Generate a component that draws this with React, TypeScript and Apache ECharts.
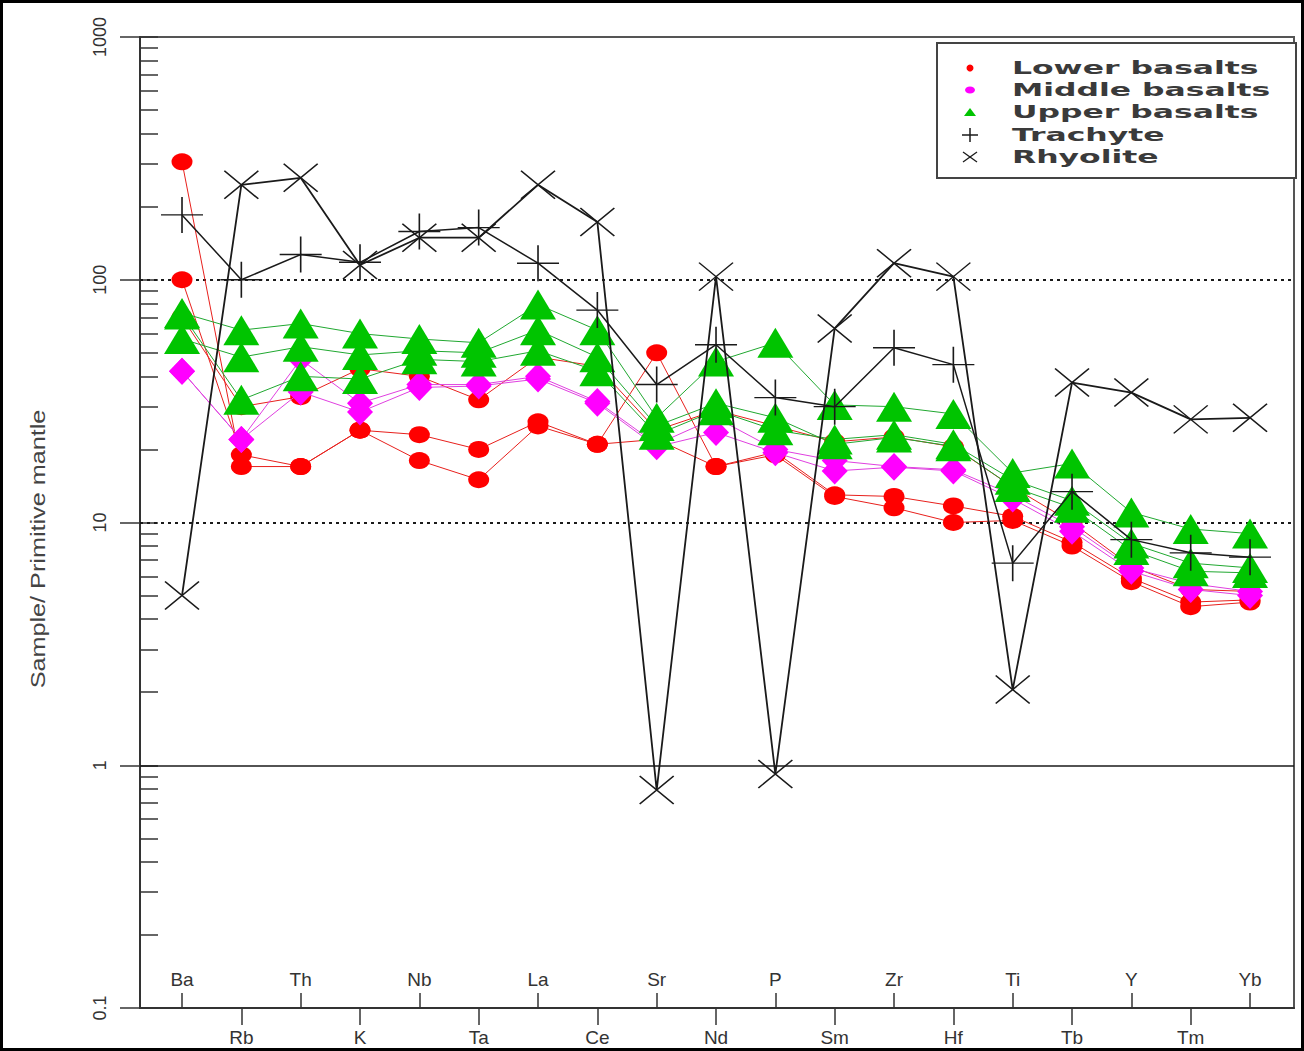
import React, { useEffect, useRef } from "react";
import * as echarts from "echarts";

// Spider diagram: trace elements normalised to primitive mantle
const elements = ["Ba", "Rb", "Th", "K", "Nb", "Ta", "La", "Ce", "Sr", "Nd", "P", "Sm", "Zr", "Hf", "Ti", "Tb", "Y", "Tm", "Yb"];

const lowerBasalt1 = [306, 17, 17, 24, 18, 15, 25, 21, 50, 17, 19.5, 13, 12.8, 11.7, 10.6, 8.3, 5.9, 4.7, 4.8];
const lowerBasalt2 = [100, 19, 17, 24, 23, 20, 26, 21, 22, 17, 19, 12.8, 11.5, 10, 10.2, 8.0, 5.7, 4.5, 4.7];
const lowerBasalt3 = [70, 30, 33, 43, 40, 32, 48, 44, 24, 29, 25, 21.5, 22.5, 20.5, 14, 10, 6.6, 5.3, 5.2];

const middleBasalt1 = [42, 22, 47, 31, 37, 37, 40, 31.5, 21, 27, 20, 18, 17, 16.5, 13, 9.6, 6.5, 5.6, 5.2];
const middleBasalt2 = [42, 22, 34.5, 28.5, 36, 36.5, 39, 31, 20.5, 23.5, 19.4, 16.3, 16.9, 16.3, 12.5, 9.2, 6.3, 5.3, 5.0];

const upperBasalt1 = [73, 62, 66, 60, 57, 55, 79, 62, 27, 46, 55, 30.5, 30, 28, 16, 17.5, 11, 9.4, 9.0];
const upperBasalt2 = [57, 48, 53, 49, 51, 50, 62, 48, 25, 31, 27, 21, 22.4, 20.6, 14, 11.5, 7.7, 6.3, 6.2];
const upperBasalt3 = [72, 32, 40, 39, 47, 46, 51, 42, 23, 29, 24, 22, 23, 21, 15, 12.3, 8.2, 6.8, 6.5];

const trachyte = [185, 100, 127, 118, 158, 164, 117, 75, 37, 54, 32.7, 30, 52.5, 44.7, 6.8, 13.4, 8.5, 7.5, 7.2];
const rhyolite = [5, 246, 263, 115, 149, 149, 246, 173, 0.79, 103, 0.92, 63, 117, 103, 2.05, 37.7, 34.3, 26.6, 27];

const majorTicks = [0.1, 1, 10, 100, 1000];
const dottedLevels = [10, 100];
const solidLevels = [1];

const legendNames = ["Lower basalts", "Middle basalts", "Upper basalts", "Trachyte", "Rhyolite"];

const RED = "#ff0000";
const MAGENTA = "#ff00ff";
const GREEN = "#00c400";
const INK = "#1a1a1a";
const LABEL_FONT = '"Liberation Sans", Arial, sans-serif';

const PLUS = "path://M0,50L100,50M50,0L50,100";
const CROSS = "path://M0,0L100,100M100,0L0,100";

const toPoints = (vals: number[]) => vals.map((v, i) => [i, v]);

const evenIdx = elements.map((_, i) => i).filter((i) => i % 2 === 0);
const oddIdx = elements.map((_, i) => i).filter((i) => i % 2 === 1);

const minorTickValues: number[] = [];
[0.1, 1, 10, 100].forEach((d) => {
  for (let k = 1; k <= 9; k++) minorTickValues.push(+(d * k).toPrecision(3));
});
minorTickValues.push(1000);

function filledSeries(name: string, vals: number[], symbol: string, size: number[], fill: string, line: string, z: number) {
  return {
    name,
    type: "line",
    data: toPoints(vals),
    symbol,
    symbolSize: size,
    showSymbol: true,
    z,
    lineStyle: { color: line, width: 1 },
    itemStyle: { color: fill, borderWidth: 0 },
    emphasis: { disabled: true },
    silent: true,
  };
}

function strokedSeries(name: string, vals: number[], symbol: string, size: number[], width: number, z: number) {
  return {
    name,
    type: "line",
    data: toPoints(vals),
    symbol,
    symbolSize: size,
    showSymbol: true,
    z,
    lineStyle: { color: INK, width },
    itemStyle: { color: "rgba(0,0,0,0)", borderColor: INK, borderWidth: 1.5 },
    emphasis: { disabled: true },
    silent: true,
  };
}

function legendGraphic() {
  const x0 = 937;
  const y0 = 43;
  const rows = [68, 90, 112, 135, 157];
  const sx = 970;
  const children: any[] = [
    { type: "rect", shape: { x: x0, y: y0, width: 359, height: 135 }, style: { fill: "#ffffff", stroke: "#444", lineWidth: 2 } },
    { type: "circle", shape: { cx: sx, cy: rows[0], r: 3.5 }, style: { fill: RED } },
    { type: "ellipse", shape: { cx: sx, cy: rows[1], rx: 5, ry: 3.5 }, style: { fill: MAGENTA } },
    { type: "polygon", shape: { points: [[sx - 6, rows[2] + 4], [sx + 6, rows[2] + 4], [sx, rows[2] - 4]] }, style: { fill: GREEN } },
    { type: "line", shape: { x1: sx - 8, y1: rows[3], x2: sx + 8, y2: rows[3] }, style: { stroke: INK, lineWidth: 1.5 } },
    { type: "line", shape: { x1: sx, y1: rows[3] - 7, x2: sx, y2: rows[3] + 7 }, style: { stroke: INK, lineWidth: 1.5 } },
    { type: "line", shape: { x1: sx - 7, y1: rows[4] - 5, x2: sx + 7, y2: rows[4] + 5 }, style: { stroke: INK, lineWidth: 1.3 } },
    { type: "line", shape: { x1: sx - 7, y1: rows[4] + 5, x2: sx + 7, y2: rows[4] - 5 }, style: { stroke: INK, lineWidth: 1.3 } },
  ];
  legendNames.forEach((name, i) => {
    children.push({
      type: "text",
      x: 1012,
      y: rows[i],
      scaleX: 1.85,
      style: { text: name, font: 'bold 17px "DejaVu Sans"', fill: "#3a3a3a", align: "left", verticalAlign: "middle" },
    });
  });
  return { type: "group", z: 100, children };
}

export default function App() {
  const ref = useRef<HTMLDivElement | null>(null);

  useEffect(() => {
    if (!ref.current) return;
    const chart = echarts.init(ref.current, null, { renderer: "svg" });

    const refLines = [
      ...dottedLevels.map((v) => ({ yAxis: v, lineStyle: { type: [3, 4], color: INK, width: 2 } })),
      ...solidLevels.map((v) => ({ yAxis: v, lineStyle: { type: "solid", color: INK, width: 1.5 } })),
    ];

    const lower1: any = filledSeries("Lower basalts", lowerBasalt1, "circle", [21, 17], RED, "#e8201c", 2);
    lower1.markLine = { silent: true, symbol: "none", label: { show: false }, data: refLines, z: 1 };

    const series = [
      lower1,
      filledSeries("Lower basalts", lowerBasalt2, "circle", [21, 17], RED, "#e8201c", 2),
      filledSeries("Lower basalts", lowerBasalt3, "circle", [21, 17], RED, "#e8201c", 2),
      filledSeries("Middle basalts", middleBasalt1, "diamond", [26, 27], MAGENTA, "#e040e0", 3),
      filledSeries("Middle basalts", middleBasalt2, "diamond", [26, 27], MAGENTA, "#e040e0", 3),
      filledSeries("Upper basalts", upperBasalt1, "triangle", [36, 30], GREEN, "#20a830", 4),
      filledSeries("Upper basalts", upperBasalt2, "triangle", [36, 30], GREEN, "#20a830", 4),
      filledSeries("Upper basalts", upperBasalt3, "triangle", [36, 30], GREEN, "#20a830", 4),
      strokedSeries("Trachyte", trachyte, PLUS, [42, 36], 1.5, 5),
      strokedSeries("Rhyolite", rhyolite, CROSS, [34, 28], 1.8, 6),
    ];

    const axisLabelStyle = { fontFamily: LABEL_FONT, fontSize: 19, color: "#333" };

    chart.setOption({
      animation: false,
      backgroundColor: "#ffffff",
      grid: { left: 140, right: 10, top: 37, bottom: 43, show: true, borderColor: "#555", borderWidth: 2, backgroundColor: "transparent" },
      xAxis: [
        {
          type: "value",
          min: -0.708,
          max: 18.741,
          position: "bottom",
          axisLine: { show: true, onZero: false, lineStyle: { color: "#333", width: 2 } },
          axisTick: { show: true, inside: true, length: 15, customValues: evenIdx, lineStyle: { color: "#333", width: 1.5 } },
          axisLabel: { inside: true, margin: 19, customValues: evenIdx, formatter: (v: number) => elements[Math.round(v)] ?? "", ...axisLabelStyle },
          splitLine: { show: false },
        },
        {
          type: "value",
          min: -0.708,
          max: 18.741,
          position: "bottom",
          axisLine: { show: false, onZero: false },
          axisTick: { show: true, inside: false, length: 17, customValues: oddIdx, lineStyle: { color: "#333", width: 1.5 } },
          axisLabel: { inside: false, margin: 20, customValues: oddIdx, formatter: (v: number) => elements[Math.round(v)] ?? "", ...axisLabelStyle },
          splitLine: { show: false },
        },
      ],
      yAxis: [
        {
          type: "log",
          logBase: 10,
          min: 0.1,
          max: 1000,
          position: "left",
          axisLine: { show: true, onZero: false, lineStyle: { color: "#333", width: 2 } },
          axisTick: { show: true, inside: false, length: 20, customValues: majorTicks, lineStyle: { color: "#333", width: 1.5 } },
          axisLabel: { rotate: 90, margin: 31, customValues: majorTicks, formatter: (v: number) => String(+v.toPrecision(3)), ...axisLabelStyle, fontSize: 18 },
          splitLine: { show: false },
          minorTick: { show: false },
        },
        {
          type: "log",
          logBase: 10,
          min: 0.1,
          max: 1000,
          position: "left",
          axisLine: { show: false, onZero: false },
          axisTick: { show: true, inside: true, length: 18, customValues: minorTickValues, lineStyle: { color: "#333", width: 1.5 } },
          axisLabel: { show: false },
          splitLine: { show: false },
        },
      ],
      series,
      graphic: [
        { type: "rect", z: 100, shape: { x: 1.5, y: 1.5, width: 1301, height: 1048 }, style: { fill: "none", stroke: "#000", lineWidth: 3 } },
        {
          type: "text",
          z: 100,
          x: 38,
          y: 549,
          rotation: Math.PI / 2,
          scaleX: 1.2,
          style: { text: "Sample/ Primitive mantle", font: `21px ${LABEL_FONT}`, fill: "#444", align: "center", verticalAlign: "middle" },
        },
        legendGraphic(),
      ],
    });

    return () => chart.dispose();
  }, []);

  return (
    <div
      ref={ref}
      style={{ position: "absolute", left: 0, top: 0, width: 1304, height: 1051, background: "#fff" }}
    />
  );
}
